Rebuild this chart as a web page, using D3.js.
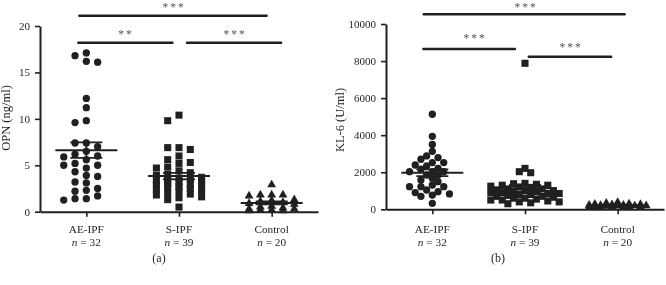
<!DOCTYPE html>
<html><head><meta charset="utf-8">
<script src="https://cdn.jsdelivr.net/npm/d3@7"></script>
<style>body{margin:0;background:#fff}svg{display:block}</style>
</head><body><svg id="c" width="666" height="285"></svg>
<script>
// ---------- data ----------
const categories = ["AE-IPF", "S-IPF", "Control"];
const groupN = ["32", "39", "20"];
const opnTicks = [0, 5, 10, 15, 20];
const kl6Ticks = [0, 2000, 4000, 6000, 8000, 10000];

const opnAE = [17.1, 16.8, 16.2, 16.1, 12.2, 11.2, 9.8, 9.6, 7.4, 7.4, 7.0, 6.5, 6.2, 6.0, 5.9, 5.6,
  5.2, 5.0, 5.0, 4.7, 4.3, 3.9, 3.8, 3.2, 3.1, 2.5, 2.3, 2.2, 1.7, 1.4, 1.4, 1.25];
const opnS = [10.4, 9.8, 6.9, 6.9, 6.7, 6.0, 5.6, 5.3, 5.2, 4.8, 4.7, 4.4, 4.2, 4.0, 3.9, 3.7, 3.6,
  3.5, 3.4, 3.3, 3.2, 3.1, 3.0, 3.0, 2.9, 2.8, 2.7, 2.6, 2.5, 2.4, 2.3, 2.2, 2.0, 1.9, 1.8, 1.6, 1.5, 1.3, 0.5];
const opnC = [2.9, 1.8, 1.8, 1.8, 1.7, 1.3, 1.2, 1.1, 1.0, 0.9, 0.8, 0.6, 0.5, 0.4, 0.3, 0.3, 0.2, 0.2, 0.1, 0.1];

const kl6AE = [5130, 3940, 3500, 3130, 2880, 2790, 2700, 2520, 2520, 2390, 2340, 2210, 2160, 2030, 2030,
  2030, 1850, 1850, 1670, 1580, 1490, 1310, 1220, 1220, 1220, 1040, 950, 900, 830, 770, 700, 320];
const kl6S = [7880, 2210, 2030, 1975, 1400, 1380, 1350, 1300, 1300, 1250, 1200, 1150, 1100, 1100, 1050,
  1000, 1000, 950, 950, 900, 900, 850, 850, 800, 800, 750, 700, 700, 650, 600, 600, 550, 500, 500, 450,
  400, 400, 350, 300];
const kl6C = [380, 330, 300, 280, 260, 250, 230, 220, 210, 200, 190, 180, 170, 160, 150, 140, 130, 120, 110, 100];

const opnSig = [["AE-IPF", "Control", "***"], ["AE-IPF", "S-IPF", "**"], ["S-IPF", "Control", "***"]];
const kl6Sig = [["AE-IPF", "Control", "***"], ["AE-IPF", "S-IPF", "***"], ["S-IPF", "Control", "***"]];

// ---------- drawing ----------
const svg = d3.select("#c");
const defs = svg.append("defs");
defs.append("filter").attr("id", "gray").append("feColorMatrix").attr("type", "saturate").attr("values", 0);
const root = svg.append("g").attr("filter", "url(#gray)");
root.append("rect").attr("width", 666).attr("height", 285).attr("fill", "#fff");
const INK = "#231f20";
const FONT = "'Liberation Serif','Times New Roman',serif";
const symbols = [d3.symbolCircle, d3.symbolSquare, d3.symbolTriangle];
const symSizes = [42, 50, 34];

function swarm(values, y, cx, colW, minD, maxCols) {
  const order = values.map((v, i) => i).sort((a, b) => values[b] - values[a]);
  const placed = [], out = new Array(values.length);
  const cols = [0];
  for (let k = 1; k <= maxCols; k++) { cols.push(-k, k); }
  order.forEach(i => {
    const py = y(values[i]);
    let best = null, bestD = -1;
    for (const c of cols) {
      const px = cx + c * colW;
      const d = placed.length ? d3.min(placed, p => Math.hypot(p.x - px, p.y - py)) : Infinity;
      if (d >= minD) { best = px; break; }
      if (d > bestD) { bestD = d; best = px; }
    }
    placed.push({x: best, y: py}); out[i] = {x: best, y: py};
  });
  return out;
}

function panel(cfg) {
  const g = root.append("g");
  const x = d3.scalePoint().domain(categories).range([cfg.x0, cfg.x1]).padding(0.5);
  const y = d3.scaleLinear().domain([0, cfg.ticks[cfg.ticks.length - 1]]).range([cfg.yBottom, cfg.yTop]);

  // y axis
  const ya = g.append("g").attr("transform", `translate(${cfg.x0},0)`)
    .call(d3.axisLeft(y).tickValues(cfg.ticks).tickSize(5).tickSizeOuter(0).tickPadding(5).tickFormat(d3.format("d")));
  ya.select(".domain").attr("stroke", INK).attr("stroke-width", 2);
  ya.selectAll(".tick line").attr("stroke", INK).attr("stroke-width", 1.6);
  ya.selectAll(".tick text").attr("font-family", FONT).attr("font-size", 11).attr("fill", INK);

  // x axis
  const xa = g.append("g").attr("transform", `translate(0,${cfg.yBottom})`)
    .call(d3.axisBottom(x).tickSize(5).tickSizeOuter(0).tickFormat(""));
  xa.select(".domain").attr("stroke", INK).attr("stroke-width", 2);
  xa.selectAll(".tick line").attr("stroke", INK).attr("stroke-width", 1.6);

  // category labels
  categories.forEach((c, i) => {
    g.append("text").attr("x", x(c)).attr("y", 233).attr("text-anchor", "middle")
      .attr("font-family", FONT).attr("font-size", 11.3).attr("fill", INK).text(c);
    const t = g.append("text").attr("x", x(c)).attr("y", 246.3).attr("text-anchor", "middle")
      .attr("font-family", FONT).attr("font-size", 11.3).attr("fill", INK);
    t.append("tspan").attr("font-style", "italic").text("n");
    t.append("tspan").text(" = " + groupN[i]);
  });

  // y label
  g.append("text").attr("transform", `translate(${cfg.labelX},${cfg.labelY}) rotate(-90)`)
    .attr("text-anchor", "middle").attr("font-family", FONT).attr("font-size", 12.5).attr("fill", INK)
    .text(cfg.label);

  // panel letter
  g.append("text").attr("x", cfg.letterX).attr("y", 261.5).attr("text-anchor", "middle")
    .attr("font-family", FONT).attr("font-size", 12).attr("fill", INK).text(cfg.letter);

  // points
  cfg.series.forEach((vals, i) => {
    const cx = x(categories[i]);
    const pos = swarm(vals, y, cx, cfg.colW, cfg.minD, cfg.maxCols[i]);
    g.append("g").selectAll("path").data(pos).join("path")
      .attr("transform", d => `translate(${d.x},${d.y})`)
      .attr("d", d3.symbol(symbols[i], symSizes[i]))
      .attr("fill", INK);
    const m = d3.mean(vals), se = d3.deviation(vals) / Math.sqrt(vals.length);
    const lines = [[m, 31, 2], [m + se, 16, 1.8], [m - se, 16, 1.8]];
    lines.forEach(([v, hw, sw]) => {
      g.append("line").attr("x1", cx - hw).attr("x2", cx + hw).attr("y1", y(v)).attr("y2", y(v))
        .attr("stroke", INK).attr("stroke-width", sw);
    });
    g.append("line").attr("x1", cx).attr("x2", cx).attr("y1", y(m + se)).attr("y2", y(m - se))
      .attr("stroke", INK).attr("stroke-width", 1.8);
  });

  // significance bars
  cfg.sig.forEach((s, i) => {
    const geo = cfg.sigGeo[i];
    const xa0 = x(s[0]) + geo[1], xa1 = x(s[1]) + geo[2];
    g.append("line").attr("x1", xa0).attr("x2", xa1).attr("y1", geo[0]).attr("y2", geo[0])
      .attr("stroke", INK).attr("stroke-width", 2.4).attr("stroke-linecap", "round");
    g.append("text").attr("x", geo[3]).attr("y", geo[4]).attr("text-anchor", "middle")
      .attr("font-family", FONT).attr("font-size", 11.5).attr("letter-spacing", 2).attr("fill", "#555")
      .text(s[2]);
  });
}

panel({
  x0: 40, x1: 318, yBottom: 211.7, yTop: 26, ticks: opnTicks,
  label: "OPN (ng/ml)", labelX: 10, labelY: 118, letter: "(a)", letterX: 159,
  series: [opnAE, opnS, opnC], colW: 11.3, minD: 7, maxCols: [2, 2, 2],
  sig: opnSig,
  sigGeo: [[15.7, -7, -5, 174, 11], [42.7, -8, -6.5, 126, 37.5], [42.7, 8, 9.5, 235, 37.5]]
});
panel({
  x0: 386, x1: 664, yBottom: 209.3, yTop: 24, ticks: kl6Ticks,
  label: "KL-6 (U/ml)", labelX: 344, labelY: 120, letter: "(b)", letterX: 498,
  series: [kl6AE, kl6S, kl6C], colW: 5.7, minD: 6.6, maxCols: [4, 6, 5],
  sig: kl6Sig,
  sigGeo: [[14.3, -8.6, 7, 526, 10.5], [49, -9, -10, 475, 42], [56.7, 3.7, -6.5, 571, 50.5]]
});
</script>
</body></html>
